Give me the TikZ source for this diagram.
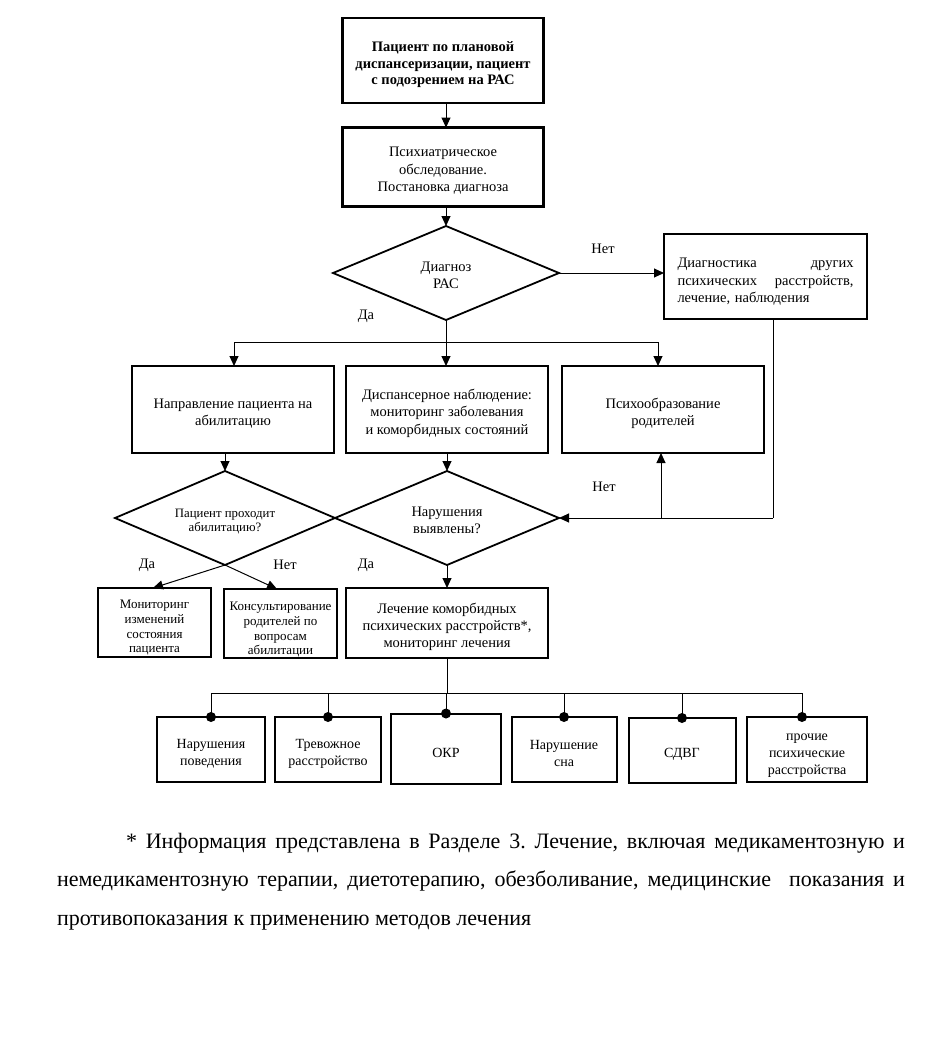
\documentclass[tikz,border=0pt]{standalone}
\usepackage{fontspec}
\setmainfont{Liberation Serif}
\usetikzlibrary{arrows.meta,shapes.geometric}
\newcommand\fsz[2]{\fontsize{#1}{#2}\selectfont}
\newcommand\tp[1]{\rule{0pt}{#1pt}}
\begin{document}
\begin{tikzpicture}[x=1pt,y=-1pt,
  every node/.style={inner sep=0pt, outer sep=0pt},
  box/.style={draw, line width=2.2pt, align=center, font=\fsz{14.5}{17.2}},
  sbox/.style={draw, line width=2.2pt, align=center, font=\fsz{13}{14.8}},
  bbox/.style={draw, line width=2pt, align=center, font=\fsz{14}{17}, minimum height=65pt},
  dia/.style={draw, diamond, shape aspect=2.35, line width=1.8pt, align=center, font=\fsz{14.5}{17.5}},
  conn/.style={line width=1pt},
  arr/.style={line width=1pt, -{Triangle[length=10pt,width=9pt]}},
  lbl/.style={font=\fsz{14.5}{17}},
  dot/.style={fill=black}
]
\fill[white] (0,0) rectangle (939,1063);
\useasboundingbox (0,0) rectangle (939,1063);

% top chain
\node[box, line width=2.8pt, font=\bfseries\fsz{14.5}{16.5}, minimum width=201pt, minimum height=85pt] (start) at (443,60.5)
  {\tp{19}Пациент по плановой\\диспансеризации, пациент\\с подозрением на РАС};
\node[box, minimum width=201pt, minimum height=79pt] (exam) at (443,167)
  {\tp{17}Психиатрическое\\обследование.\\Постановка диагноза};
\node[dia, minimum width=226pt, minimum height=94pt] (d1) at (446,273) {\tp{14}Диагноз\\РАС};
\node[box, minimum width=203pt, minimum height=85pt, text width=176pt, align=left] (diag) at (765.5,276.5)
  {\tp{20}Диагностика\hfill других\\психических\hfill расстройств,\\лечение, наблюдения};

\draw[arr] (start.south -| d1.north) -- (exam.north -| d1.north);
\draw[arr] (exam.south -| d1.north) -- (d1.north);
\draw[arr] (d1.east) -- (diag.west |- d1.east);
\node[lbl] (no1) at (603,249) {Нет};
\node[lbl] (yes1) at (366,316) {Да};

% second row
\node[box, minimum width=202pt, minimum height=87pt] (boxA) at (233,409.5) {\tp{18}Направление пациента на\\абилитацию};
\node[box, minimum width=202pt, minimum height=87pt] (boxB) at (447,409.5) {\tp{18}Диспансерное наблюдение:\\мониторинг заболевания\\и коморбидных состояний};
\node[box, minimum width=202pt, minimum height=87pt] (boxC) at (663,409.5) {\tp{18}Психообразование\\родителей};

\coordinate (hA) at (234,342);
\coordinate (hC) at (658,342);
\draw[conn] (hA) -- (hC);
\draw[arr] (d1.south) -- (d1.south |- boxB.north);
\draw[arr] (hA) -- (hA |- boxA.north);
\draw[arr] (hC) -- (hC |- boxC.north);

% diamonds row
\node[dia, minimum width=220pt, minimum height=94pt, font=\fsz{12.8}{14}] (d3) at (225,518) {\tp{15}Пациент проходит\\абилитацию?};
\node[dia, minimum width=224pt, minimum height=94pt] (d2) at (447,518) {\tp{14}Нарушения\\выявлены?};
\draw[arr] (d3.north |- boxA.south) -- (d3.north);
\draw[arr] (boxB.south) -- (d2.north);

% right loop
\coordinate (rc) at (773,518);
\coordinate (up) at (661,518);
\draw[conn] (rc |- diag.south) -- (rc);
\draw[arr] (rc) -- (d2.east);
\draw[arr] (up) -- (up |- boxC.south);
\node[lbl] (no2) at (604,487) {Нет};

% lower row
\node[sbox, minimum width=113pt, minimum height=69pt] (mon) at (154.5,622.5) {\tp{19}Мониторинг\\изменений\\состояния\\пациента};
\node[sbox, minimum width=113pt, minimum height=69pt] (kons) at (280.5,623.5) {\tp{21}Консультирование\\родителей по\\вопросам\\абилитации};
\node[box, minimum width=202pt, minimum height=70pt] (lech) at (447,623) {\tp{18}Лечение коморбидных\\психических расстройств*,\\мониторинг лечения};
\draw[arr] (d3.south) -- ([xshift=-1.5pt]mon.north);
\draw[arr] (d3.south) -- ([xshift=-3.5pt]kons.north);
\draw[arr] (d2.south) -- (lech.north);
\node[lbl] (yes3) at (147,565) {Да};
\node[lbl] (no3) at (285,565) {Нет};
\node[lbl] (yes2) at (366,565) {Да};

% bottom row
\node[bbox, minimum width=108pt] (b1) at (211,749.5) {\tp{17.3}Нарушения\\поведения};
\node[bbox, minimum width=106pt] (b2) at (328,749.5) {\tp{17.3}Тревожное\\расстройство};
\node[bbox, minimum width=110pt, minimum height=70pt] (b3) at (446,748.5) {\tp{17.3}ОКР};
\node[bbox, minimum width=105pt] (b4) at (564,749.5) {\tp{17.3}Нарушение\\сна};
\node[bbox, minimum width=107pt] (b5) at (682,750.5) {\tp{17.3}СДВГ};
\node[bbox, minimum width=120pt] (b6) at (807,749.5) {\tp{18.4}прочие\\психические\\расстройства};

\coordinate (hb) at (447,693);
\draw[conn] (lech.south) -- (hb);
\draw[conn] (b1.north |- hb) -- ([xshift=-5pt]b6.north |- hb);
\foreach \b in {b1,b2,b3,b4,b5}{
  \draw[conn] (\b.north |- hb) -- (\b.north);
  \fill[dot] (\b.north) circle (5pt);
}
\draw[conn] ([xshift=-5pt]b6.north |- hb) -- ([xshift=-5pt]b6.north);
\fill[dot] ([xshift=-5pt]b6.north) circle (5pt);

% footnote
\node[anchor=north west, align=left, font=\frenchspacing\fsz{22}{38.5}] (note) at (57,833)
  {\hspace*{69pt}\makebox[779pt][s]{* Информация представлена в Разделе 3. Лечение, включая медикаментозную и}\\
   \makebox[848pt][s]{немедикаментозную терапии, диетотерапию, обезболивание, медицинские\ \ показания и}\\
   противопоказания к применению методов лечения};
\end{tikzpicture}
\end{document}
